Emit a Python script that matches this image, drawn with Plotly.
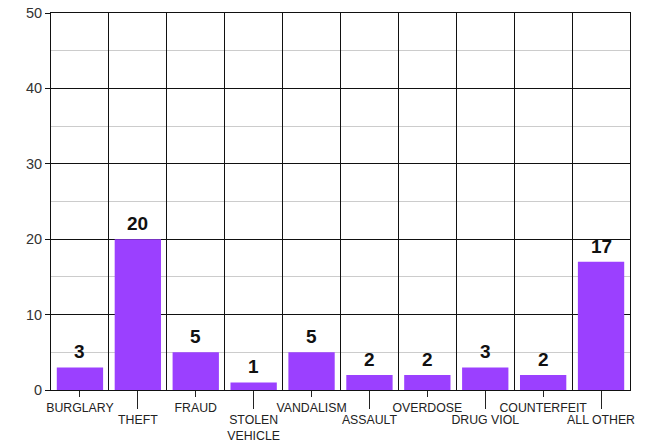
import plotly.graph_objects as go

categories = ["BURGLARY", "THEFT", "FRAUD", "STOLEN<br>VEHICLE", "VANDALISM",
              "ASSAULT", "OVERDOSE", "DRUG VIOL", "COUNTERFEIT", "ALL OTHER"]
counts = [3, 20, 5, 1, 5, 2, 2, 3, 2, 17]
y_ticks = [0, 10, 20, 30, 40, 50]

idx = list(range(len(categories)))
even = [i for i in idx if i % 2 == 0]
odd = [i for i in idx if i % 2 == 1]

fig = go.Figure()
fig.add_trace(go.Bar(
    x=idx, y=counts,
    marker=dict(color="#9B40FF", line=dict(width=0)),
    width=0.8,
    hoverinfo="skip",
))

for i, v in zip(idx, counts):
    fig.add_annotation(
        x=i, y=v, text=f"<b>{v}</b>", showarrow=False,
        yanchor="bottom", xanchor="center", yshift=3,
        font=dict(family="Arial, Liberation Sans", size=19, color="#111"),
    )

font = dict(family="Arial, Liberation Sans", size=12.3, color="#222")
rng = [-0.5, len(categories) - 0.5]

fig.update_layout(
    width=645, height=442,
    margin=dict(l=51, r=15, t=13, b=52),
    paper_bgcolor="white", plot_bgcolor="white",
    showlegend=False,
    bargap=0.2,
    xaxis=dict(
        range=rng, tickvals=[i - 0.5 for i in idx] + [len(categories) - 0.5],
        showticklabels=False, ticks="", showgrid=True, gridcolor="#111", gridwidth=1,
        showline=True, linecolor="#111", linewidth=1, zeroline=False, mirror=True,
        automargin=False,
    ),
    xaxis2=dict(
        overlaying="x", range=rng, tickvals=even,
        ticktext=[categories[i] for i in even],
        ticks="outside", ticklen=6, tickcolor="#222", tickwidth=1,
        showgrid=False, zeroline=False, showline=False, tickfont=font, tickangle=0,
        automargin=False,
    ),
    xaxis3=dict(
        overlaying="x", range=rng, tickvals=odd,
        ticktext=[categories[i] for i in odd],
        ticks="outside", ticklen=18, tickcolor="#222", tickwidth=1,
        showgrid=False, zeroline=False, showline=False, tickfont=font, tickangle=0,
        automargin=False,
    ),
    yaxis=dict(
        range=[0, 50], tickvals=y_ticks, ticks="outside", ticklen=5,
        tickcolor="#111", showgrid=True, gridcolor="#111", gridwidth=1,
        showline=True, linecolor="#111", linewidth=1, zeroline=False, mirror=True,
        tickfont=dict(family="Arial, Liberation Sans", size=14.5, color="#333"),
        minor=dict(dtick=5, showgrid=True, gridcolor="#cccccc", gridwidth=1, ticks=""),
        automargin=False,
    ),
)
fig.add_trace(go.Scatter(x=[None], y=[None], xaxis="x2", showlegend=False, hoverinfo="skip"))
fig.add_trace(go.Scatter(x=[None], y=[None], xaxis="x3", showlegend=False, hoverinfo="skip"))

fig.write_html("out.html", config={"displayModeBar": False},
               post_script="document.body.style.margin='0';document.body.style.overflow='hidden';")
